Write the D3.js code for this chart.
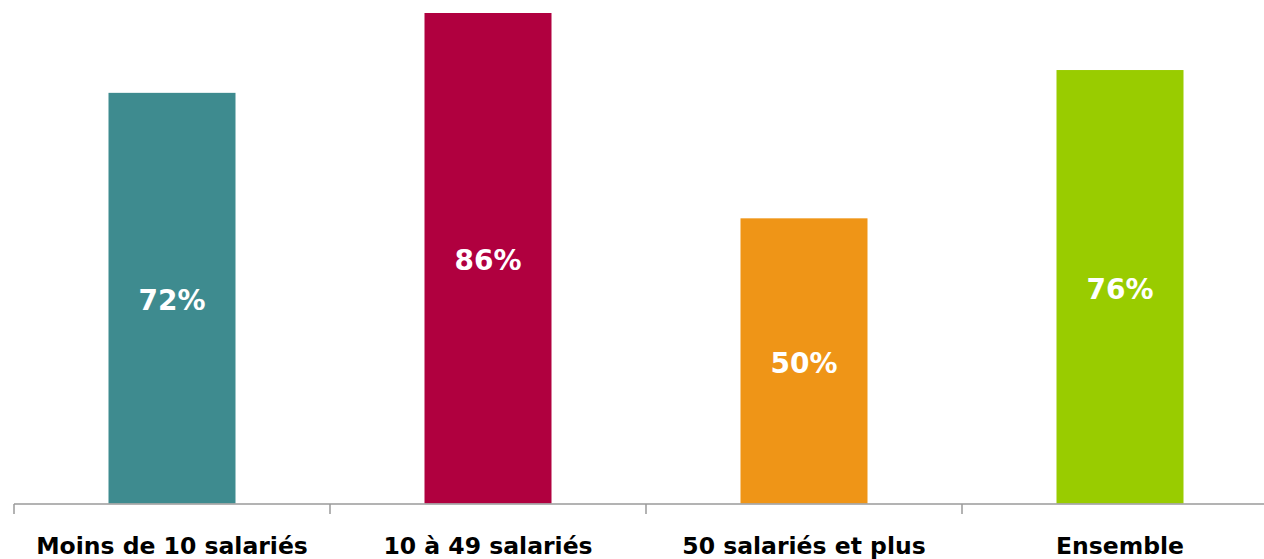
<!DOCTYPE html>
<html><head><meta charset="utf-8">
<script src="https://cdn.jsdelivr.net/npm/d3@7"></script>
<style>html,body{margin:0;padding:0;background:#fff;overflow:hidden}</style>
</head><body>
<svg id="c" width="1264" height="559"></svg>
<script>
const categories = ["Moins de 10 salariés", "10 à 49 salariés", "50 salariés et plus", "Ensemble"];
const values = [72, 86, 50, 76];
const colors = ["#3e8b8f", "#b0003f", "#ef9517", "#99cc00"];
const valueLabels = ["72%", "86%", "50%", "76%"];

const svg = d3.select("#c");
const x = d3.scaleBand().domain(categories).range([14, 1278]).paddingInner(0).paddingOuter(0);
const y = d3.scaleLinear().domain([0, 86]).range([503.5, 13]);
const barW = 127;

svg.selectAll("rect.bar").data(categories).join("rect")
  .attr("class","bar")
  .attr("x", d => x(d) + x.bandwidth()/2 - barW/2)
  .attr("width", barW)
  .attr("y", (d,i) => y(values[i]))
  .attr("height", (d,i) => y(0) - y(values[i]))
  .attr("fill", (d,i) => colors[i]);

svg.selectAll("text.val").data(categories).join("text")
  .attr("class","val")
  .attr("x", d => x(d) + x.bandwidth()/2)
  .attr("y", (d,i) => (y(values[i]) + y(0))/2 + 12)
  .attr("text-anchor","middle")
  .attr("fill","#fff")
  .attr("font-family","'DejaVu Sans', Verdana, sans-serif")
  .attr("font-weight","bold")
  .attr("font-size","28px")
  .text((d,i) => valueLabels[i]);

// axis line and ticks at band boundaries
const ax = svg.append("g");
ax.append("line").attr("x1", 14).attr("x2", 1278).attr("y1", 504).attr("y2", 504)
  .attr("stroke","#9a9a9a").attr("stroke-width",1.5);
const bounds = categories.map(d => x(d)).concat([x.range()[1]]);
ax.selectAll("line.tick").data(bounds).join("line").attr("class","tick")
  .attr("x1", d => d).attr("x2", d => d).attr("y1", 504).attr("y2", 514)
  .attr("stroke","#9a9a9a").attr("stroke-width",1.5);

svg.selectAll("text.cat").data(categories).join("text")
  .attr("class","cat")
  .attr("x", d => x(d) + x.bandwidth()/2)
  .attr("y", 554)
  .attr("text-anchor","middle")
  .attr("fill","#000")
  .attr("font-family","'DejaVu Sans', Verdana, sans-serif")
  .attr("font-weight","bold")
  .attr("font-size","23.5px")
  .text(d => d);
</script>
</body></html>
